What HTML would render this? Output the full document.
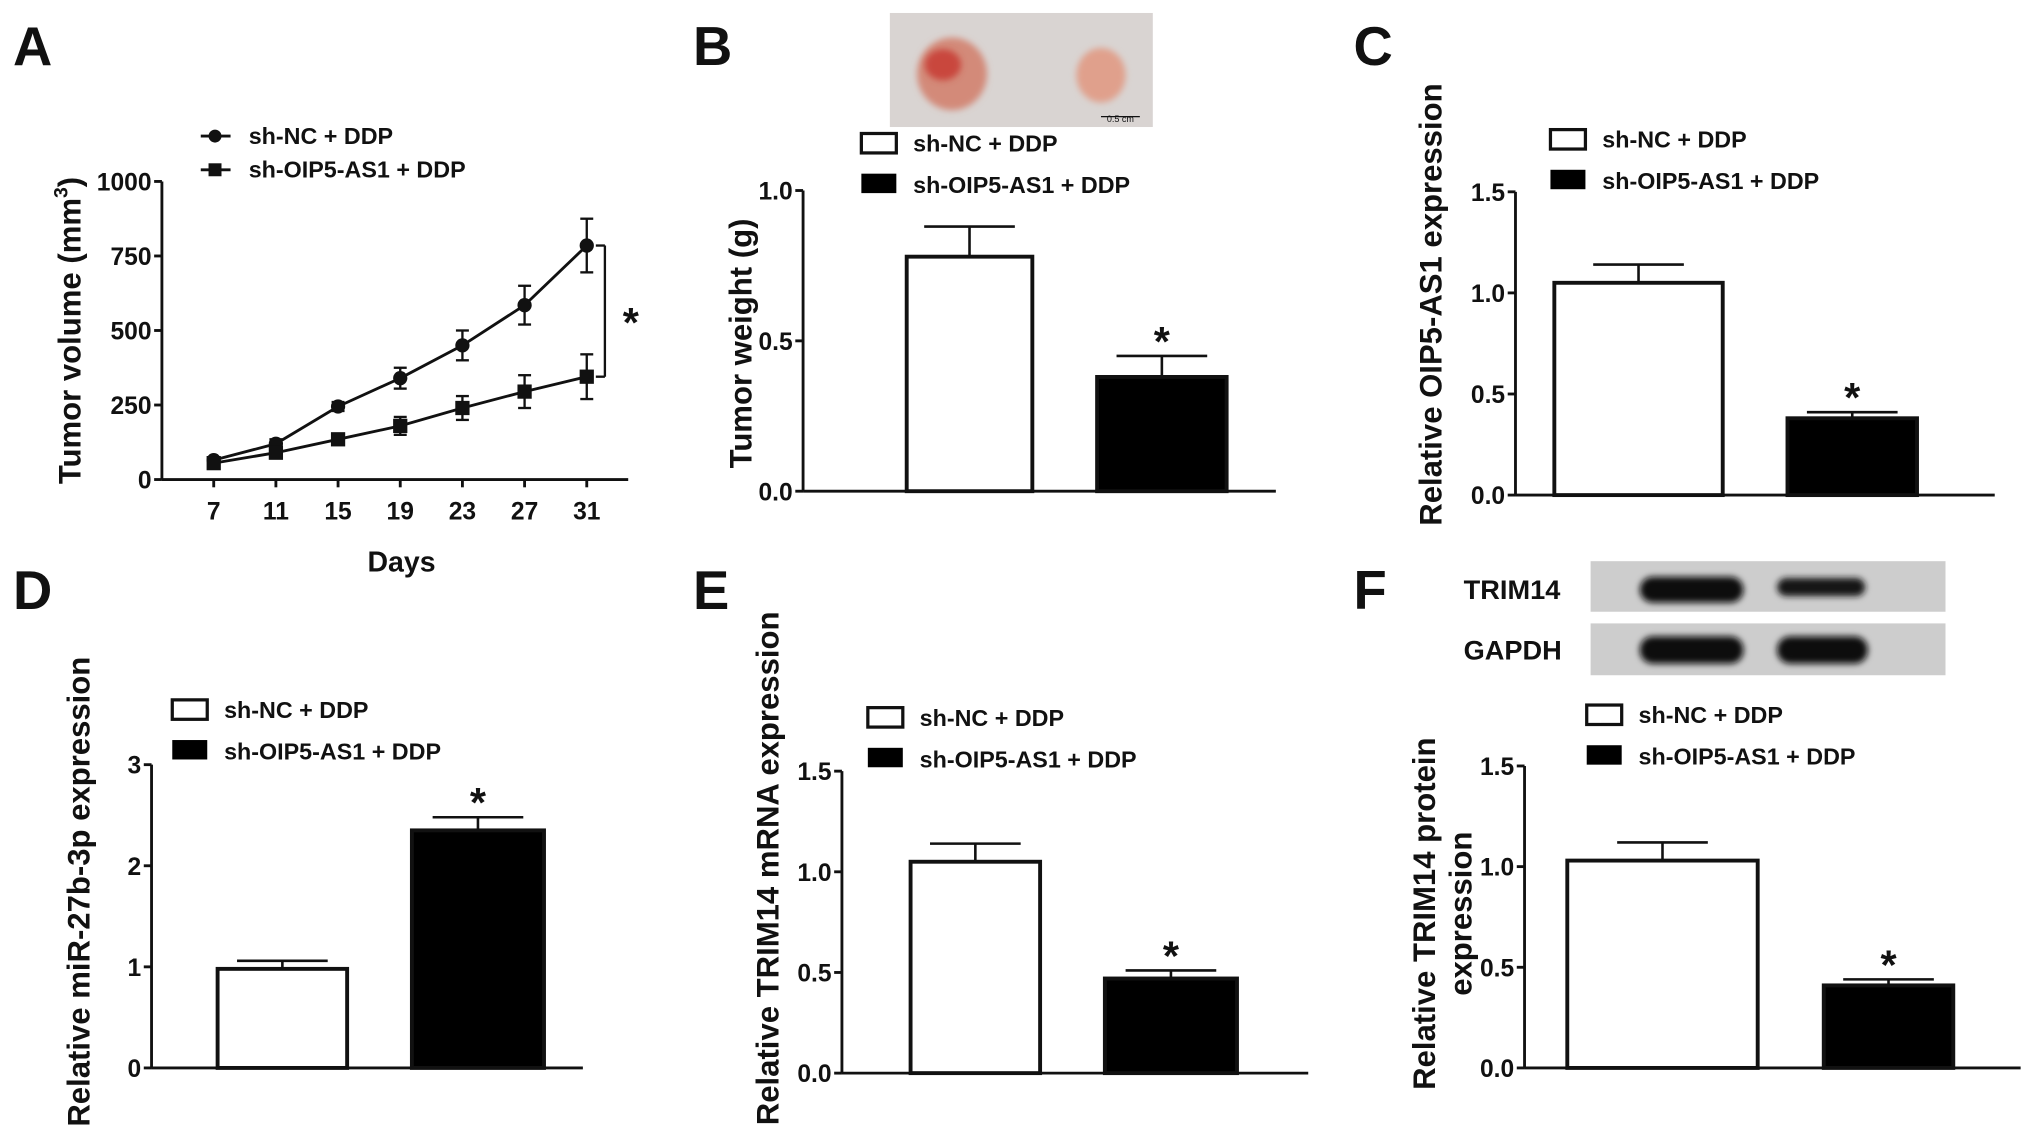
<!DOCTYPE html>
<html><head><meta charset="utf-8"><style>
html,body{margin:0;padding:0;background:#fff;}
svg{display:block;font-family:"Liberation Sans",Arial,sans-serif;font-weight:bold;}
</style></head><body>
<svg id="fig" width="2031" height="1147" viewBox="0 0 1568 885" preserveAspectRatio="none" xmlns="http://www.w3.org/2000/svg">
<defs><filter id="blur" x="-20%" y="-50%" width="140%" height="200%"><feGaussianBlur stdDeviation="2.5"/></filter></defs>
</svg>
<script>
// Panel A data
const daysA = [7, 11, 15, 19, 23, 27, 31];
const ncVol = [65, 120, 245, 340, 450, 585, 785];
const ncErr = [10, 15, 15, 35, 50, 65, 90];
const oipVol = [55, 90, 135, 180, 240, 295, 345];
const oipErr = [8, 12, 15, 30, 40, 55, 75];
const ticksA = [0, 250, 500, 750, 1000];
// Bar panels: [sh-NC, sh-OIP5-AS1]
const barB = [0.78, 0.38], errB = [0.10, 0.07];
const barC = [1.05, 0.38], errC = [0.09, 0.03];
const barD = [0.98, 2.35], errD = [0.08, 0.13];
const barE = [1.05, 0.47], errE = [0.09, 0.04];
const barF = [1.03, 0.41], errF = [0.09, 0.03];
const ticks15 = ["0.0", "0.5", "1.0", "1.5"];
const ticksB = ["0.0", "0.5", "1.0"];
const ticksD = ["0", "1", "2", "3"];

const svg = document.getElementById('fig');
const NS = 'http://www.w3.org/2000/svg';
function mk(tag, attrs, parent) {
  const e = document.createElementNS(NS, tag);
  for (const k in attrs) e.setAttribute(k, attrs[k]);
  (parent || svg).appendChild(e);
  return e;
}
function txt(s, x, y, size, anchor, parent, rot) {
  const t = mk('text', {x: x, y: y, 'font-size': size, 'text-anchor': anchor || 'start', fill: '#111'}, parent);
  if (rot) t.setAttribute('transform', 'rotate(-90 ' + x + ' ' + y + ')');
  t.textContent = s;
  return t;
}
function line(x1, y1, x2, y2, parent, w) {
  return mk('line', {x1: x1, y1: y1, x2: x2, y2: y2, stroke: '#111', 'stroke-width': w || 2.2}, parent);
}

[['A', 10, 50], ['B', 535, 50], ['C', 1045, 50], ['D', 10, 470], ['E', 535, 470], ['F', 1045, 470]].forEach(p => {
  const t = txt(p[0], p[1], p[2], 42, 'start');
  
  
});

// ---------- Panel A ----------
const gA = mk('g', {});


const ax0 = 125, axEnd = 485, ay0 = 370, ay1 = 140;
const xA = d => 165 + (d - 7) * 12;
const yA = v => ay0 - (v / 1000) * (ay0 - ay1);
line(ax0, ay1, ax0, ay0, gA);
line(ax0, ay0, axEnd, ay0, gA);
ticksA.forEach(v => { line(ax0 - 6, yA(v), ax0, yA(v), gA); txt(String(v), ax0 - 8, yA(v) + 7, 19, 'end', gA); });
daysA.forEach(d => { line(xA(d), ay0, xA(d), ay0 + 6, gA); txt(String(d), xA(d), ay0 + 31, 19, 'middle', gA); });
txt('Days', 310, 441, 22, 'middle', gA);
const tA = txt('Tumor volume (mm', 62, 255, 24, 'middle', gA, true);
const sup = mk('tspan', {dy: -10, 'font-size': 15}, tA); sup.textContent = '3';
const cl = mk('tspan', {dy: 10}, tA); cl.textContent = ')';
function series(vals, errs, shape, name) {
  const g = mk('g', {}, gA);
  
  
  mk('polyline', {points: daysA.map((d, i) => xA(d) + ',' + yA(vals[i])).join(' '), fill: 'none', stroke: '#111', 'stroke-width': 2.2}, g);
  daysA.forEach((d, i) => {
    const x = xA(d), y = yA(vals[i]);
    line(x, yA(vals[i] + errs[i]), x, yA(vals[i] - errs[i]), g, 1.8);
    line(x - 5, yA(vals[i] + errs[i]), x + 5, yA(vals[i] + errs[i]), g, 1.8);
    line(x - 5, yA(vals[i] - errs[i]), x + 5, yA(vals[i] - errs[i]), g, 1.8);
    if (shape === 'c') mk('circle', {cx: x, cy: y, r: 5.5, fill: '#111'}, g);
    else mk('rect', {x: x - 5.5, y: y - 5.5, width: 11, height: 11, fill: '#111'}, g);
  });
}
series(ncVol, ncErr, 'c', 'series-sh-nc');
series(oipVol, oipErr, 's', 'series-sh-oip5-as1');
line(155, 105, 178, 105, gA); mk('circle', {cx: 166, cy: 105, r: 5, fill: '#111'}, gA);
txt('sh-NC + DDP', 192, 111, 18, 'start', gA);
line(155, 131, 178, 131, gA); mk('rect', {x: 161, y: 126, width: 10, height: 10, fill: '#111'}, gA);
txt('sh-OIP5-AS1 + DDP', 192, 137, 18, 'start', gA);
const by1 = yA(785), by2 = yA(345);
line(467, by1, 467, by2, gA, 1.8); line(460, by1, 467, by1, gA, 1.8); line(460, by2, 467, by2, gA, 1.8);
txt('*', 487, 260, 32, 'middle', gA);

// ---------- Bar panels ----------
function barPanel(cfg) {
  const g = mk('g', {});
  
  
  const y = v => cfg.y0 - (v / cfg.max) * (cfg.y0 - cfg.y1);
  line(cfg.ax, cfg.y1, cfg.ax, cfg.y0, g);
  line(cfg.ax, cfg.y0, cfg.axEnd, cfg.y0, g);
  cfg.ticks.forEach(t => { const v = parseFloat(t); line(cfg.ax - 6, y(v), cfg.ax, y(v), g); txt(t, cfg.ax - 8, y(v) + 7, 19, 'end', g); });
  cfg.vals.forEach((v, i) => {
    const [x1, x2] = cfg.bx[i];
    const top = y(v + cfg.errs[i]);
    const cx = (x1 + x2) / 2;
    line(cx, top, cx, y(v), g, 2);
    line(cx - 35, top, cx + 35, top, g, 2);
    const r = mk('rect', {x: x1, y: y(v), width: x2 - x1, height: cfg.y0 - y(v), fill: i ? '#000' : '#fff', stroke: '#111', 'stroke-width': 3}, g);
    
    
    if (i === 1) txt('*', cx, top, 32, 'middle', g);
  });
  const [lx, ly] = cfg.leg;
  mk('rect', {x: lx, y: ly - 7, width: 27, height: 15, fill: '#fff', stroke: '#111', 'stroke-width': 2.5}, g);
  txt('sh-NC + DDP', lx + 40, ly + 7, 18, 'start', g);
  mk('rect', {x: lx, y: ly + 24, width: 27, height: 15, fill: '#000'}, g);
  txt('sh-OIP5-AS1 + DDP', lx + 40, ly + 39, 18, 'start', g);
  cfg.title.forEach((s, k) => txt(s, cfg.tx + k * 28, cfg.ty, 24, 'middle', g, true));
}
barPanel({name: 'panel-b-tumor-weight', ax: 620, axEnd: 985, y0: 379, y1: 147, max: 1.0, ticks: ticksB, vals: barB, errs: errB, bx: [[700, 797], [847, 947]], leg: [665, 110], title: ['Tumor weight (g)'], tx: 580, ty: 265});
barPanel({name: 'panel-c-oip5-as1', ax: 1170, axEnd: 1540, y0: 382, y1: 148, max: 1.5, ticks: ticks15, vals: barC, errs: errC, bx: [[1200, 1330], [1380, 1480]], leg: [1197, 107], title: ['Relative OIP5-AS1 expression'], tx: 1113, ty: 235});
barPanel({name: 'panel-d-mir-27b', ax: 117, axEnd: 450, y0: 824, y1: 590, max: 3, ticks: ticksD, vals: barD, errs: errD, bx: [[168, 268], [318, 420]], leg: [133, 547], title: ['Relative miR-27b-3p expression'], tx: 69, ty: 688});
barPanel({name: 'panel-e-trim14-mrna', ax: 650, axEnd: 1010, y0: 828, y1: 595, max: 1.5, ticks: ticks15, vals: barE, errs: errE, bx: [[703, 803], [853, 955]], leg: [670, 553], title: ['Relative TRIM14 mRNA expression'], tx: 601, ty: 670});
barPanel({name: 'panel-f-trim14-protein', ax: 1177, axEnd: 1560, y0: 824, y1: 591, max: 1.5, ticks: ticks15, vals: barF, errs: errF, bx: [[1210, 1357], [1408, 1508]], leg: [1225, 551], title: ['Relative TRIM14 protein', 'expression'], tx: 1108, ty: 705});

// Tumor photo B
const gP = mk('g', {});


mk('rect', {x: 687, y: 10, width: 203, height: 88, fill: '#d9d4d2'}, gP);
mk('ellipse', {cx: 735, cy: 57, rx: 27, ry: 28, fill: '#d38a79', filter: 'url(#blur)'}, gP);
mk('ellipse', {cx: 728, cy: 50, rx: 14, ry: 12, fill: '#c9473e', filter: 'url(#blur)'}, gP);
mk('ellipse', {cx: 850, cy: 58, rx: 19, ry: 21, fill: '#e0a08c', filter: 'url(#blur)'}, gP);
line(850, 90, 880, 90, gP, 1);
const sb = txt('0.5 cm', 865, 94, 7, 'middle', gP); sb.setAttribute('font-weight', 'normal');

// Western blot F
const gW = mk('g', {});


mk('rect', {x: 1228, y: 433, width: 274, height: 39, fill: '#cdcdcd'}, gW);
mk('rect', {x: 1228, y: 481, width: 274, height: 40, fill: '#cdcdcd'}, gW);
mk('rect', {x: 1266, y: 445, width: 80, height: 20, rx: 10, fill: '#111', filter: 'url(#blur)'}, gW);
mk('rect', {x: 1372, y: 446, width: 68, height: 14, rx: 7, fill: '#151515', filter: 'url(#blur)'}, gW);
mk('rect', {x: 1266, y: 491, width: 80, height: 21, rx: 10, fill: '#111', filter: 'url(#blur)'}, gW);
mk('rect', {x: 1372, y: 491, width: 70, height: 21, rx: 10, fill: '#111', filter: 'url(#blur)'}, gW);
txt('TRIM14', 1130, 462, 21, 'start', gW);
txt('GAPDH', 1130, 509, 21, 'start', gW);
</script>
</body></html>
